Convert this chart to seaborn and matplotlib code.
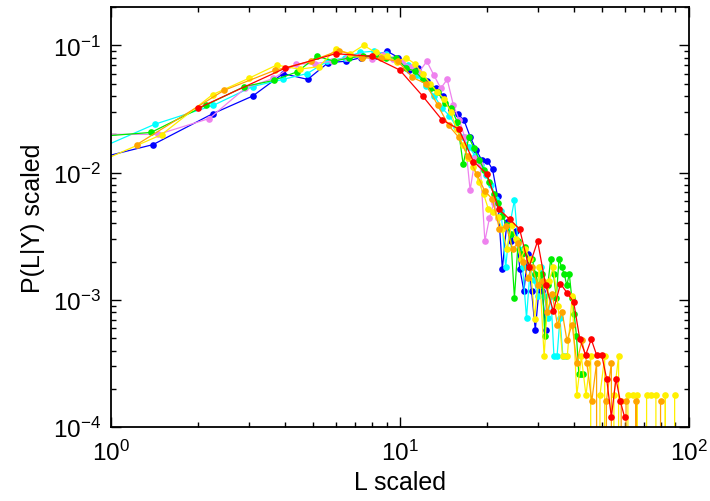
import matplotlib
matplotlib.use("Agg")
import matplotlib.pyplot as plt
import seaborn as sns

# scaled length values (x) and scaled probabilities (y), one pair of lists per curve
blue_x = [0.55, 1.40, 2.25, 3.10, 3.95, 4.80, 5.65, 6.50, 7.35, 8.20, 9.05, 9.90, 10.75, 11.60,
          12.45, 13.30, 14.15, 15.00, 15.85, 16.70, 17.55, 18.40, 19.25, 20.10, 20.95, 21.80,
          22.65, 23.50, 24.35, 25.20, 26.05, 26.90, 27.75, 28.60, 29.45, 30.30, 31.15, 32.00]
blue_y = [0.0098, 0.0166, 0.029, 0.040, 0.060, 0.054, 0.073, 0.075, 0.080, 0.083, 0.090, 0.080,
          0.064, 0.066, 0.052, 0.046, 0.040, 0.031, 0.029, 0.0257, 0.019, 0.015, 0.0125, 0.0124,
          0.0106, 0.0065, 0.00175, 0.0041, 0.0029, 0.0035, 0.00175, 0.00117, 0.0023, 0.00117,
          0.00058, 0.00117, 0.00117, 0.00058]

cyan_x = [0.58, 1.42, 2.26, 3.10, 3.94, 4.78, 5.62, 6.46, 7.30, 8.14, 8.98, 9.82, 10.66, 11.50,
          12.34, 13.18, 14.02, 14.86, 15.70, 16.54, 17.38, 18.22, 19.06, 19.90, 20.74, 21.58,
          22.42, 23.26, 24.10, 24.94, 25.78, 26.62, 27.46, 28.30, 29.14, 29.98, 30.82, 31.66,
          32.50, 33.34, 34.18, 35.02, 35.86, 36.70, 37.54]
cyan_y = [0.0099, 0.024, 0.0337, 0.0475, 0.054, 0.060, 0.075, 0.080, 0.088, 0.090, 0.085, 0.076,
          0.070, 0.058, 0.048, 0.040, 0.032, 0.028, 0.023, 0.019, 0.016, 0.0135, 0.0115, 0.0095,
          0.0080, 0.0062, 0.0050, 0.0018, 0.0040, 0.0061, 0.0025, 0.0018, 0.00072, 0.0018,
          0.00144, 0.00108, 0.0018, 0.00108, 0.00072, 0.00108, 0.00036, 0.00036, 0.00072,
          0.00036, 0.00036]

violet_x = [0.73, 1.46, 2.19, 2.92, 3.65, 4.38, 5.11, 5.84, 6.57, 7.30, 8.03, 8.76, 9.49, 10.22,
            10.95, 11.68, 12.41, 13.14, 13.87, 14.60, 15.33, 16.06, 16.79, 17.52, 18.25, 18.98,
            19.71, 20.44, 21.17, 21.90]
violet_y = [0.020, 0.020, 0.0266, 0.046, 0.055, 0.071, 0.072, 0.075, 0.080, 0.083, 0.078, 0.084,
            0.078, 0.074, 0.068, 0.062, 0.075, 0.058, 0.046, 0.054, 0.034, 0.026, 0.019, 0.0073,
            0.013, 0.0116, 0.0029, 0.0044, 0.0058, 0.0044]

green_x = [0.62, 1.38, 2.14, 2.90, 3.66, 4.42, 5.18, 5.94, 6.70, 7.46, 8.22, 8.98, 9.74, 10.50,
           11.26, 12.02, 12.78, 13.54, 14.30, 15.06, 15.82, 16.58, 17.34, 18.10, 18.86, 19.62,
           20.38, 21.14, 21.90, 22.66, 23.42, 24.18, 24.94, 25.70, 26.46, 27.22, 27.98, 28.74,
           29.50, 30.26, 31.02, 31.78, 32.54, 33.30, 34.06, 34.82, 35.58, 36.34, 37.10, 37.86,
           38.62, 39.38, 40.14, 40.90, 41.66, 42.42, 43.18]
green_y = [0.018, 0.0207, 0.034, 0.0475, 0.053, 0.062, 0.082, 0.075, 0.080, 0.082, 0.084, 0.079,
           0.080, 0.066, 0.063, 0.054, 0.046, 0.043, 0.035, 0.032, 0.025, 0.0116, 0.019, 0.0155,
           0.0125, 0.0105, 0.0085, 0.0068, 0.0058, 0.0046, 0.0039, 0.0033, 0.00104, 0.0029,
           0.0023, 0.0026, 0.0018, 0.0021, 0.0016, 0.0013, 0.0016, 0.00052, 0.0013, 0.0021,
           0.0016, 0.00104, 0.0021, 0.0018, 0.0016, 0.0013, 0.0016, 0.00104, 0.00078, 0.00052,
           0.00026, 0.00026, 0.00026]

yellow_x = [0.75, 1.50, 2.25, 3.00, 3.75, 4.50, 5.25, 6.00, 6.75, 7.50, 8.25, 9.00, 9.75, 10.50,
            11.25, 12.00, 12.75, 13.50, 14.25, 15.00, 15.75, 16.50, 17.25, 18.00, 18.75, 19.50,
            20.25, 21.0, 21.8, 22.6, 23.5, 24.4, 25.3, 26.2, 27.2, 28.2, 29.3, 30.4, 31.6, 32.8,
            34.0, 35.3, 36.6, 38.0, 39.5, 41.0, 42.5, 44.1, 45.8, 47.5, 49.3, 51.2, 53.1, 55.1,
            57.2, 59.4, 61.6, 64.0, 66.4, 68.9, 71.5, 74.2, 77.0, 79.9, 83.0, 86.1, 89.4]
yellow_y = [0.010, 0.0199, 0.041, 0.055, 0.070, 0.065, 0.068, 0.093, 0.086, 0.100, 0.088, 0.082,
            0.074, 0.080, 0.072, 0.060, 0.050, 0.043, 0.038, 0.030, 0.022, 0.0166, 0.013, 0.011,
            0.0085, 0.0068, 0.0052, 0.0049, 0.0045, 0.0036, 0.0025, 0.0039, 0.0030, 0.0021,
            0.0025, 0.0021, 0.00071, 0.0018, 0.00036, 0.0014, 0.0018, 0.00089, 0.00036, 0.00036,
            0.00107, 0.000178, 0.00036, 0.000178, 0.00036, 0, 0.000178, 0.00036, 0, 0.000178,
            0.00036, 0, 0.000178, 0.000178, 0.000178, 0, 0.000178, 0.000178, 0.000178, 0,
            0.000178, 0, 0.000178]

orange_x = [1.23, 2.46, 3.69, 4.92, 6.15, 7.38, 8.61, 9.84, 11.07, 12.30, 13.53, 14.76, 15.99,
            17.22, 18.45, 19.68, 20.91, 22.14, 23.37, 24.60, 25.6, 26.6, 27.7, 28.8, 30.0, 31.2,
            32.4, 33.7, 35.1, 36.5, 37.9, 39.5, 41.0, 42.7, 44.4, 46.2, 48.0, 49.9, 51.9, 54.0,
            56.2, 58.4, 60.7, 63.2, 65.7, 68.3, 71.0, 73.9, 76.8, 79.9]
orange_y = [0.0166, 0.0442, 0.0636, 0.075, 0.091, 0.080, 0.079, 0.075, 0.056, 0.050, 0.034,
            0.0235, 0.019, 0.0134, 0.0098, 0.0072, 0.0062, 0.0036, 0.0038, 0.0025, 0.0028, 0.0020,
            0.0015, 0.0018, 0.0013, 0.0014, 0.00080, 0.00112, 0.00064, 0.00080, 0.00048, 0.00064,
            0.00032, 0.00048, 0.00032, 0.00016, 0.00032, 0, 0.00016, 0.00032, 0, 0.00016,
            0.00016, 0, 0.00016, 0, 0, 0, 0, 0.00016]

red_x = [2, 4, 6, 8, 10, 12, 14, 16, 18, 20, 22, 24, 26, 28, 30, 32, 34, 36, 38, 40, 42, 44, 46,
         48, 50, 52, 54, 56, 58, 60]
red_y = [0.032, 0.066, 0.086, 0.082, 0.064, 0.040, 0.026, 0.022, 0.0122, 0.0098, 0.0052, 0.0043,
         0.0036, 0.0018, 0.0029, 0.0013, 0.00082, 0.00134, 0.00113, 0.00096, 0.00049, 0.00037,
         0.00049, 0.00037, 0.00037, 0.00024, 0.00012, 0.00024, 0.00016, 0.00012]

curves = [
    (blue_x, blue_y, "#0000ff"),
    (cyan_x, cyan_y, "#00ffff"),
    (violet_x, violet_y, "#ee82ee"),
    (green_x, green_y, "#00ee00"),
    (yellow_x, yellow_y, "#fff000"),
    (orange_x, orange_y, "#ffa500"),
    (red_x, red_y, "#ff0000"),
]

sns.set_style("ticks")
plt.rcParams["font.family"] = ["Liberation Sans", "DejaVu Sans"]
plt.rcParams["mathtext.fontset"] = "custom"
plt.rcParams["mathtext.rm"] = "Liberation Sans"
plt.rcParams["mathtext.it"] = "Liberation Sans:italic"

fig = plt.figure(figsize=(7.1, 5.02), dpi=100)
ax = fig.add_axes([0.156, 0.147, 0.814, 0.837])

for xs, ys, col in curves:
    sns.lineplot(x=xs, y=ys, color=col, marker="o", markersize=4.8, markeredgewidth=0,
                 linewidth=0.9, sort=False, estimator=None, ax=ax)

ax.set_xscale("log")
ax.set_yscale("log")
ax.set_xlim(1, 100)
ax.set_ylim(1e-4, 0.2)

ax.set_xlabel("L scaled", fontsize=18, color="black", labelpad=4)
ax.set_ylabel("P(L|Y) scaled", fontsize=18, color="black", labelpad=6)
ax.tick_params(which="both", direction="in", top=True, right=True, labelsize=17.5, width=1.0,
               color="black", labelcolor="black")
ax.tick_params(which="major", length=7)
ax.tick_params(which="minor", length=3.5)
ax.tick_params(axis="x", which="major", pad=9)
ax.tick_params(axis="y", which="major", pad=7)
for sp in ax.spines.values():
    sp.set_linewidth(1.3)
    sp.set_color("black")

fig.savefig("out.png", dpi=100)
